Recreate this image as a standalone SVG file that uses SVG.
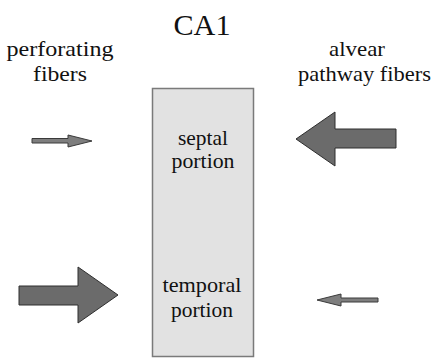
<svg xmlns="http://www.w3.org/2000/svg" width="433" height="358" viewBox="0 0 433 358">
<style>
.lbl{font-size:22px}
.in{font-size:21px}
.big{fill:#6b6b6b;stroke:#2e2e2e;stroke-width:1}
.small{fill:#7e7e7e;stroke:#3a3a3a;stroke-width:1}
</style>
<rect width="433" height="358" fill="#fff"/>
<g font-family="'Liberation Serif', 'Times New Roman', 'DejaVu Serif', serif" fill="#111" text-anchor="middle">
<g id="title"><text x="202" y="35" font-size="30" textLength="57" lengthAdjust="spacingAndGlyphs">CA1</text></g>
<g id="perforating-label"><text class="lbl" x="60" y="56" textLength="107" lengthAdjust="spacingAndGlyphs">perforating</text><text class="lbl" x="60" y="81" textLength="54" lengthAdjust="spacingAndGlyphs">fibers</text></g>
<g id="alvear-label"><text class="lbl" x="357" y="56" textLength="56" lengthAdjust="spacingAndGlyphs">alvear</text><text class="lbl" x="364.5" y="81" textLength="133" lengthAdjust="spacingAndGlyphs">pathway fibers</text></g>
<g id="ca1-box">
<rect x="152.5" y="88.5" width="101" height="268" fill="#e2e2e2" stroke="#7a7a7a" stroke-width="1.5"/>
<text class="in" x="203" y="145" textLength="50" lengthAdjust="spacingAndGlyphs">septal</text><text class="in" x="203" y="168" textLength="63" lengthAdjust="spacingAndGlyphs">portion</text>
<text class="in" x="202" y="292" textLength="79" lengthAdjust="spacingAndGlyphs">temporal</text><text class="in" x="202" y="317" textLength="62" lengthAdjust="spacingAndGlyphs">portion</text>
</g>
</g>
<g id="connectors">
<polygon class="small" points="32,138.5 68,138.5 68,135 92,141 68,147 68,143 32,143"/>
<polygon class="big" points="396,129 335,129 335,112 296,139 335,166 335,148 396,148"/>
<polygon class="big" points="19,286 78,286 78,267 118,295 78,323 78,305 19,305"/>
<polygon class="small" points="378,298 341,298 341,294 317,300 341,306 341,302 378,302"/>
</g>
</svg>
